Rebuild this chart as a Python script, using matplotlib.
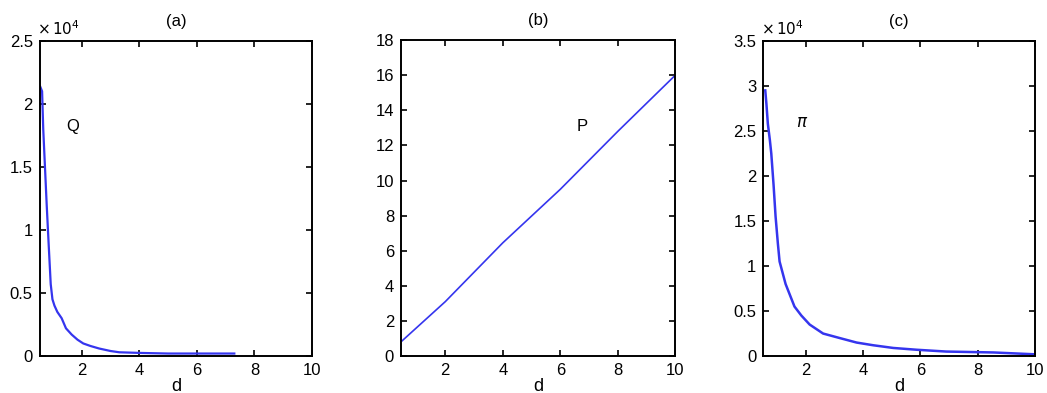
import numpy as np
import matplotlib.pyplot as plt

plt.rcParams['font.family'] = ['Liberation Sans', 'DejaVu Sans']

# (a) Q, values in units of 1e4
d_q = [0.55, 0.62, 0.66, 0.72, 0.78, 0.85, 0.92, 0.98, 1.05, 1.15, 1.3, 1.45,
       1.65, 1.85, 2.05, 2.3, 2.6, 3.0, 3.3, 4.0, 5.0, 6.0, 7.3]
q = [2.14, 2.10, 1.80, 1.50, 1.20, 0.88, 0.57, 0.45, 0.40, 0.35, 0.30, 0.22,
     0.17, 0.13, 0.10, 0.08, 0.06, 0.04, 0.03, 0.025, 0.02, 0.02, 0.02]

# (b) P
d_p = [0.5, 2.0, 4.0, 6.0, 8.0, 10.0]
p = [0.87, 3.1, 6.45, 9.5, 12.8, 16.0]

# (c) pi, values in units of 1e4
d_pi = [0.58, 0.62, 0.67, 0.74, 0.79, 0.87, 0.94, 1.02, 1.08, 1.29, 1.6, 1.84,
        2.13, 2.6, 3.18, 3.77, 4.35, 5.05, 5.87, 6.9, 8.55, 9.95]
pi_v = [2.95, 2.80, 2.58, 2.40, 2.25, 1.90, 1.55, 1.25, 1.05, 0.80, 0.55, 0.45,
        0.35, 0.25, 0.20, 0.15, 0.12, 0.09, 0.07, 0.05, 0.04, 0.02]

line_color = '#3535ee'

fig = plt.figure(figsize=(10.47, 3.93), dpi=100)
ax_a = fig.add_axes([0.038, 0.094, 0.260, 0.802])
ax_b = fig.add_axes([0.383, 0.094, 0.262, 0.804])
ax_c = fig.add_axes([0.729, 0.094, 0.2595, 0.802])


def style(ax, title):
    ax.set_title(title, fontsize=12, pad=11)
    ax.set_xlabel('d', fontsize=13, labelpad=0)
    ax.tick_params(direction='in', top=True, right=True, length=4,
                   width=1.2, labelsize=12, pad=5)
    for s in ax.spines.values():
        s.set_linewidth(1.4)
    ax.set_xticks([2, 4, 6, 8, 10])


ax_a.plot(d_q, q, color=line_color, lw=1.6)
ax_a.set_xlim(0.54, 10)
ax_a.set_ylim(0, 2.5)
ax_a.set_yticks([0, 0.5, 1, 1.5, 2, 2.5])
ax_a.set_yticklabels(['0', '0.5', '1', '1.5', '2', '2.5'])
style(ax_a, '(a)')
ax_a.text(-0.01, 1.01, r'$\times\,10^4$', transform=ax_a.transAxes,
          fontsize=11, ha='left', va='bottom')
ax_a.text(1.7, 1.82, 'Q', fontsize=12, ha='center', va='center')

ax_b.plot(d_p, p, color=line_color, lw=1.2)
ax_b.set_xlim(0.46, 10)
ax_b.set_ylim(0, 18)
ax_b.set_yticks(range(0, 19, 2))
style(ax_b, '(b)')
ax_b.text(6.75, 13.1, 'P', fontsize=12, ha='center', va='center')

ax_c.plot(d_pi, pi_v, color=line_color, lw=1.8)
ax_c.set_xlim(0.51, 10)
ax_c.set_ylim(0, 3.5)
ax_c.set_yticks([0, 0.5, 1, 1.5, 2, 2.5, 3, 3.5])
ax_c.set_yticklabels(['0', '0.5', '1', '1.5', '2', '2.5', '3', '3.5'])
style(ax_c, '(c)')
ax_c.text(-0.01, 1.01, r'$\times\,10^4$', transform=ax_c.transAxes,
          fontsize=11, ha='left', va='bottom')
ax_c.text(1.85, 2.59, r'$\pi$', fontsize=12, ha='center', va='center')

fig.savefig('out.png', dpi=100)
